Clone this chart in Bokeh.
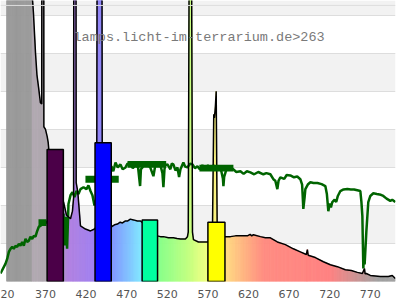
import math
from bokeh.plotting import figure
from bokeh.models import FixedTicker, Range1d, Span, Label
from bokeh.embed import file_html
from bokeh.resources import INLINE

# ---------------- data ----------------
title_text = "lamps.licht-im-terrarium.de>263"
tick_nm = [320, 370, 420, 470, 520, 570, 620, 670, 720, 770]

# lamp spectrum (black outline, rainbow fill)
lamp_nm = [322, 352.5, 353.4, 355.2, 357.7, 359.5, 361.4, 363.8, 365.4, 365.9, 367.5, 368.0,
           370.0, 372.1, 373.3, 374.1, 378, 384, 388, 392.2, 395.8, 400.8, 403.2, 404.6,
           405.6, 406.8, 407.8, 409.8, 413.1, 419.2, 425.4, 430.3, 433, 435.2, 438.2, 440,
           445, 451.2, 455, 458.6, 462, 464.8, 468, 470.9, 474.5, 478.3, 483.2, 486.9, 492,
           498, 503, 507.8, 511.5, 515.2, 521.4, 527.5, 532, 536.2, 542.3, 544.8, 545.8,
           548.4, 551.0, 552.2, 558.3, 564.5, 569.4, 575.5, 577.2, 578.0, 579.2, 580.2,
           581.5, 585, 590.3, 597.7, 604, 610, 618.6, 622, 624, 626, 634.6, 640.8, 646.9,
           655.5, 665.4, 675.2, 683.8, 691.2, 692.5, 693.5, 702.3, 712.2, 720.8, 729.4,
           739.2, 746.6, 754, 760.2, 762.8, 763.6, 765.1, 770, 782.3, 792.2, 797, 800.8]
lamp_val = [90, 90, 76, 70.5, 60.1, 54.3, 51.2, 47.0, 46.7, 300, 300, 40.7,
            40.0, 38.1, 36.6, 34.7, 30, 26, 23, 20.9, 17.5, 16.5, 18.5, 22,
            300, 300, 26, 23.5, 14.6, 13.8, 13.3, 13.8, 14.5, 300, 300, 14.5,
            14.2, 14.4, 14.9, 15.1, 15.6, 15.4, 15.9, 15.9, 16.4, 16.2, 15.9, 15.9, 15.0,
            14.0, 12.8, 12.0, 11.8, 11.8, 11.5, 11.5, 11.3, 11.2, 11.2, 11.8, 13,
            180, 13, 11.0, 10.4, 10.4, 10.4, 11, 44, 43, 46, 50,
            12, 11.5, 11.8, 11.8, 12.0, 12.0, 12.0, 12.4, 12.0, 12.3, 11.8, 11.5, 11.5,
            10.4, 9.7, 8.6, 7.8, 7.1, 8.4, 6.9, 6.3, 5.2, 4.4, 3.9,
            3.1, 2.9, 2.4, 2.1, 3.4, 2.0, 2.1, 1.6, 1.3, 1.3, 1.6, 0.8]

# reference (sunlight) spectrum, green line
sun_nm = [314.6, 320.8, 322.9, 324.9, 326.9, 329, 331, 333.1, 335.1, 337.2, 339.2, 341.3,
          343.3, 345.4, 347.5, 349.5, 351.5, 353.6, 355.6, 357.7, 359.8, 361.8, 363.8,
          365.9, 370, 380, 390, 392.2, 393.5, 394.8, 396.6, 398.3, 400.8, 403.2, 405.7,
          408.2, 410.6, 413.1, 416.8, 420.5, 422.9, 425.4, 427.8, 430.3, 440, 451.2, 453.5,
          456.2, 459, 462.3, 465, 468.5, 471, 474.6, 477.5, 480.8, 484, 486.5, 487.5, 489.4,
          492, 495.5, 499, 502.9, 505.4, 508, 511.5, 514, 515.2, 516.5, 517.7, 520.2, 523.8,
          525.5, 527.5, 530, 532.5, 534.5, 536.2, 539.8, 542, 544.8, 548, 551, 554, 557.1,
          560, 563.2, 566, 570, 573.1, 577, 580, 582.9, 586, 588.5, 589.1, 590, 592.8, 597,
          601.4, 605, 610, 614, 618, 622.3, 627, 632, 638.3, 642, 646.9, 650.6, 653, 655.5,
          657, 659.2, 664, 667, 671.5, 676, 680, 683.8, 686, 687.5, 689, 690, 693, 696.2,
          700, 704.8, 710, 714.6, 716.5, 718.3, 720, 721.5, 723.2, 726, 728, 730, 733.1,
          737, 741.7, 746, 750, 754, 757.7, 759, 760.2, 761.4, 762.3, 763, 765.1, 767.5,
          770, 773.7, 778, 783, 786, 790, 794.6, 797, 800.8]
sun_val = [2.1, 4.7, 6.0, 7.8, 8.6, 9.1, 8.6, 9.4, 9.1, 9.9, 9.4, 10.4,
           9.4, 11.2, 10.4, 10.7, 11.8, 11.2, 12.0, 11.8, 13.3, 14.4, 14.6,
           15.1, 15.4, 17, 17.5, 17.8, 9.5, 17.0, 8.6, 20.4, 22.7, 23.5, 22.2,
           23.8, 23.0, 24.3, 24.8, 24.3, 25.3, 23.8, 22.7, 20.0, 26, 30.3, 29.0,
           31.3, 30.0, 30.8, 29.5, 30.0, 31.0, 30.8, 29.8, 30.6, 30.0, 25.1, 29.5, 30.0,
           31.0, 30.8, 30.0, 27.7, 30.8, 31.0, 30.6, 28.5, 24.8, 29.5, 30.6, 30.8, 29.5,
           31.0, 30.8, 29.2, 30.0, 27.5, 29.5, 31.3, 30.2, 30.0, 31.0, 30.8, 29.8, 30.3,
           29.5, 30.6, 29.8, 30.5, 30.0, 30.5, 29.5, 30.0, 29.5, 27.0, 25.1, 27.5, 29.5, 30.0,
           29.5, 28.8, 29.0, 28.3, 29.0, 28.7, 28.2, 28.8, 28.2, 28.5, 28.2, 26.9, 26.5, 24.3,
           26.5, 27.4, 27.0, 28.0, 27.9, 27.4, 27.6, 26.9, 25.5, 19.1, 22.0, 24.3, 25.5, 26.1,
           25.9, 25.9, 25.6, 25.1, 23.0, 18.5, 20.5, 19.5, 20.9, 21.5, 20.9, 22.5, 23.8,
           24.2, 24.3, 24.2, 24.2, 24.0, 23.8, 21.0, 17.2, 3.4, 8.0, 4.5, 13.1, 20.9,
           22.5, 23.2, 23.0, 22.8, 22.5, 21.8, 21.2, 21.5, 20.9]

# coloured bars
bar_left = [372, 431, 489, 570]
bar_right = [392, 451, 508, 591]
bar_top = [34.7, 36.5, 16.2, 15.6]
bar_colors = ["#4b0048", "#0000ff", "#00ffa0", "#ffff00"]

# green averaged blocks
blk_left = [361.4, 419.2, 471.0, 559.5]
blk_right = [371.2, 460.2, 518.6, 601.4]
blk_val = [15.5, 26.9, 30.8, 29.8]

# ---------------- styling helpers ----------------
color_stops = [(300, "#999999"), (353, "#999999"), (353.01, "#b0a8b0"), (386, "#b0a8b0"),
               (398, "#b080e0"), (428, "#a080f0"), (446, "#8088ff"), (472, "#80c0ff"),
               (488, "#80e8ff"), (500, "#80ffc8"), (512, "#88ff88"), (545, "#c0ff80"),
               (572, "#f8ff80"), (590, "#ffe080"), (612, "#ffb880"), (640, "#ff8a80"),
               (720, "#ff8080"), (780, "#a0a0a0"), (810, "#a0a0a0")]


def hx(c):
    return [int(c[i:i + 2], 16) for i in (1, 3, 5)]


def wl_color(w):
    for (w0, c0), (w1, c1) in zip(color_stops[:-1], color_stops[1:]):
        if w0 <= w <= w1:
            t = (w - w0) / (w1 - w0) if w1 > w0 else 0
            a, b = hx(c0), hx(c1)
            return "#%02x%02x%02x" % tuple(int(round(a[k] + (b[k] - a[k]) * t)) for k in range(3))
    return "#a0a0a0"


# fill under lamp curve, split each segment into thin slices for a smooth colour gradient
fxs, fys, fcs = [], [], []
for i in range(len(lamp_nm) - 1):
    x0, x1 = lamp_nm[i], lamp_nm[i + 1]
    y0, y1 = lamp_val[i], lamp_val[i + 1]
    n = max(1, int(math.ceil((x1 - x0) / 1.2)))
    if x0 < 353 < x1:
        n = 1
    for k in range(n):
        a = x0 + (x1 - x0) * k / n
        b = x0 + (x1 - x0) * (k + 1) / n
        ya = y0 + (y1 - y0) * k / n
        yb = y0 + (y1 - y0) * (k + 1) / n
        fxs.append([a, a, b, b])
        fys.append([0, ya, yb, 0])
        fcs.append(wl_color((a + b) / 2))

# ---------------- figure ----------------
p = figure(width=400, height=300, x_range=Range1d(314.6, 801), y_range=Range1d(0, 73.9),
           output_backend="svg", toolbar_location=None,
           min_border_left=0, min_border_right=5, min_border_top=0, min_border_bottom=17)
p.outline_line_color = None
p.background_fill_color = "#ffffff"
p.yaxis.visible = False
p.xgrid.visible = False
p.ygrid.ticker = FixedTicker(ticks=[0, 10, 20, 30, 40, 50, 60, 70])
p.ygrid.grid_line_color = "#dddddd"
p.ygrid.band_fill_color = "#f2f2f2"
p.ygrid.band_fill_alpha = 1.0

ax = p.xaxis[0]
ax.ticker = FixedTicker(ticks=tick_nm)
ax.major_label_overrides = {320: "20"}
ax.axis_line_color = None
ax.major_tick_line_color = None
ax.minor_tick_line_color = None
ax.major_tick_out = 0
ax.major_tick_in = 0
ax.major_label_standoff = 8
ax.major_label_text_line_height = 0.7
ax.major_label_text_font = "DejaVu Sans"
ax.major_label_text_font_size = "11px"
ax.major_label_text_color = "#555555"

p.patches(fxs, fys, fill_color=fcs, line_color=fcs, line_width=0.6)
p.line(sun_nm, sun_val, line_color="#006400", line_width=2.5)
p.line(lamp_nm, lamp_val, line_color="#000000", line_width=1.5)
p.quad(left=blk_left, right=blk_right, bottom=[v - 0.9 for v in blk_val],
       top=[v + 0.9 for v in blk_val], fill_color="#006400", line_color=None)
p.quad(left=bar_left, right=bar_right, bottom=0, top=bar_top, fill_color=bar_colors,
       line_color="#000000", line_width=1.5)

p.add_layout(Span(location=72.6, dimension="width", line_color="#dddddd", line_width=1))
p.add_layout(Label(x=404.5, y=64.2, text=title_text, text_font="Liberation Mono",
                   text_font_size="13.5px", text_color="#7a7a7a", text_baseline="alphabetic"))

open("out.html", "w").write(file_html(p, INLINE))
